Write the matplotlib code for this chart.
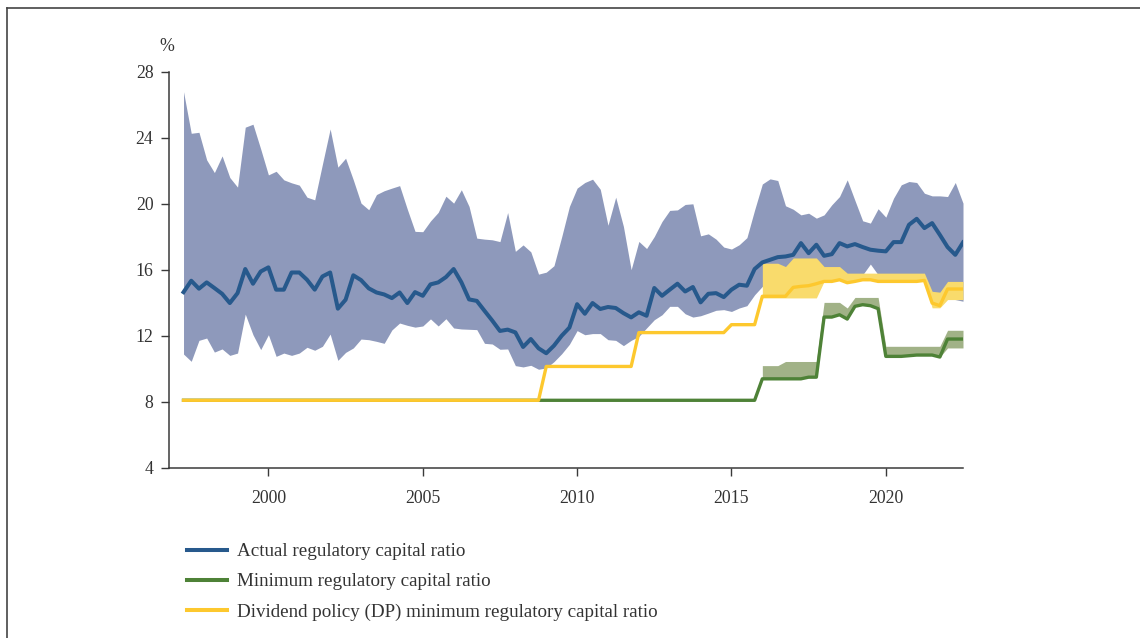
import numpy as np
import matplotlib
matplotlib.use("Agg")
import matplotlib.pyplot as plt
from matplotlib.lines import Line2D

# ---------------- data (quarterly, 1997Q2 .. 2022Q3) ----------------
start_year = 1997.25
n_points = 102
years = start_year + 0.25 * np.arange(n_points)

actual = [
    14.65, 15.34, 14.86, 15.24, 14.90, 14.55, 13.99, 14.59, 16.05, 15.16,
    15.90, 16.15, 14.80, 14.80, 15.84, 15.84, 15.40, 14.80, 15.60, 15.84,
    13.65, 14.19, 15.67, 15.38, 14.88, 14.63, 14.51, 14.29, 14.63, 13.99,
    14.65, 14.43, 15.12, 15.24, 15.56, 16.05, 15.25, 14.21, 14.12, 13.52,
    12.93, 12.30, 12.38, 12.21, 11.33, 11.81, 11.25, 10.95, 11.41, 12.01,
    12.50, 13.92, 13.34, 13.99, 13.63, 13.75, 13.69, 13.38, 13.12, 13.43,
    13.22, 14.90, 14.43, 14.80, 15.16, 14.69, 14.96, 14.03, 14.55, 14.59,
    14.35, 14.80, 15.10, 15.04, 16.05, 16.45, 16.61, 16.77, 16.81, 16.91,
    17.62, 17.01, 17.52, 16.85, 16.95, 17.62, 17.42, 17.56, 17.38, 17.22,
    17.16, 17.12, 17.68, 17.68, 18.73, 19.09, 18.53, 18.83, 18.12, 17.38,
    16.91, 17.66,
]

actual_upper = [
    26.79, 24.27, 24.33, 22.66, 21.89, 22.90, 21.59, 21.01, 24.64, 24.82,
    23.32, 21.75, 21.97, 21.45, 21.27, 21.13, 20.40, 20.24, 22.40, 24.53,
    22.22, 22.76, 21.45, 20.04, 19.64, 20.56, 20.79, 20.95, 21.10, 19.67,
    18.33, 18.31, 18.96, 19.48, 20.46, 20.04, 20.85, 19.84, 17.92, 17.86,
    17.82, 17.71, 19.47, 17.12, 17.51, 17.09, 15.74, 15.86, 16.25, 18.00,
    19.84, 20.95, 21.29, 21.49, 20.88, 18.70, 20.40, 18.63, 16.01, 17.72,
    17.29, 18.02, 18.93, 19.60, 19.63, 19.96, 20.00, 18.06, 18.18, 17.86,
    17.38, 17.26, 17.52, 17.95, 19.63, 21.20, 21.51, 21.41, 19.88, 19.67,
    19.33, 19.43, 19.13, 19.33, 19.94, 20.44, 21.45, 20.20, 18.97, 18.83,
    19.70, 19.19, 20.34, 21.15, 21.35, 21.29, 20.64, 20.48, 20.48, 20.44,
    21.29, 20.04,
]

actual_lower = [
    10.90, 10.46, 11.73, 11.87, 11.02, 11.21, 10.82, 10.96, 13.32, 12.07,
    11.17, 12.07, 10.76, 10.96, 10.82, 10.96, 11.31, 11.13, 11.37, 12.11,
    10.52, 11.00, 11.27, 11.81, 11.77, 11.67, 11.55, 12.36, 12.78, 12.64,
    12.53, 12.60, 13.03, 12.60, 13.04, 12.48, 12.42, 12.40, 12.38, 11.55,
    11.51, 11.19, 11.21, 10.20, 10.12, 10.22, 9.98, 10.06, 10.44, 10.92,
    11.49, 12.32, 12.07, 12.14, 12.14, 11.77, 11.73, 11.41, 11.73, 11.97,
    12.48, 12.98, 13.28, 13.79, 13.79, 13.34, 13.14, 13.22, 13.38, 13.55,
    13.59, 13.48, 13.69, 13.83, 14.49, 15.00, 15.30, 15.50, 15.50, 15.60,
    15.70, 15.60, 15.70, 15.70, 15.60, 15.50, 15.60, 15.70, 15.70, 16.35,
    15.70, 15.50, 15.40, 15.50, 15.60, 15.50, 15.40, 14.60, 14.50, 14.30,
    14.20, 14.10,
]

minimum_ratio = (
    [8.1] * 75
    + [9.4] * 6
    + [9.5] * 2
    + [13.14, 13.14, 13.28, 13.02, 13.79, 13.89, 13.83, 13.65,
       10.76, 10.76, 10.76, 10.80, 10.84, 10.84, 10.84, 10.72,
       11.81, 11.81, 11.81]
)

dp_ratio = (
    [8.1] * 47
    + [10.15] * 12
    + [12.2] * 12
    + [12.68] * 4
    + [14.4] * 4
    + [14.94, 15.00, 15.04, 15.16, 15.30, 15.30, 15.40, 15.22, 15.30, 15.40,
       15.40, 15.30, 15.30, 15.30, 15.30, 15.30, 15.30, 15.36, 13.99, 13.83,
       14.84, 14.84, 14.84]
)

# ranges shown as bands from 2016 onwards (index 75 ..)
band_start = 75
minimum_upper = ([10.2] * 3 + [10.45] * 5 + [14.03] * 3 + [13.69] + [14.33] * 4
                 + [11.37] * 8 + [12.34] * 3)
minimum_lower = minimum_ratio[band_start:99] + [11.27] * 3
dp_upper = ([16.4] * 3 + [16.2] + [16.72] * 4 + [16.2] * 3 + [15.8] * 11
            + [14.7, 14.65] + [15.3] * 3)
dp_lower = [14.3] * 8 + dp_ratio[83:97] + [13.7, 13.7] + [14.2] * 3

y_ticks = [4, 8, 12, 16, 20, 24, 28]
x_ticks = [2000, 2005, 2010, 2015, 2020]
legend_labels = [
    "Actual regulatory capital ratio",
    "Minimum regulatory capital ratio",
    "Dividend policy (DP) minimum regulatory capital ratio",
]

# ---------------- style ----------------
plt.rcParams["font.family"] = ["Liberation Serif", "DejaVu Serif"]
TEXT = "#333333"
BLUE_LINE = "#27598C"
BLUE_BAND = "#8E99BB"
GREEN_LINE = "#4E8237"
GREEN_BAND = "#A1B287"
YELLOW_LINE = "#FDC82E"
YELLOW_BAND = "#F9DB6C"

W, H = 1140, 638
fig = plt.figure(figsize=(W / 100, H / 100), dpi=100)

ax_left, ax_right = 168.7 / W, 963 / W
ax_top, ax_bottom = 1 - 71.7 / H, 1 - 468 / H
ax = fig.add_axes([ax_left, ax_bottom, ax_right - ax_left, ax_top - ax_bottom])

yrs = np.asarray(years)
byrs = yrs[band_start:]

ax.fill_between(yrs, actual_lower, actual_upper, color=BLUE_BAND, lw=0, zorder=1)
ax.fill_between(byrs, dp_lower, dp_upper, color=YELLOW_BAND, lw=0, zorder=2)
ax.fill_between(byrs, minimum_lower, minimum_upper, color=GREEN_BAND, lw=0, zorder=2)
ax.plot(yrs, minimum_ratio, color=GREEN_LINE, lw=2.4, zorder=3)
ax.plot(yrs, dp_ratio, color=YELLOW_LINE, lw=2.4, zorder=4)
ax.plot(yrs, actual, color=BLUE_LINE, lw=2.9, zorder=5)

ax.set_xlim(1996.77, 2022.5)
ax.set_ylim(4, 28)
ax.set_yticks(y_ticks)
ax.set_xticks(x_ticks)
ax.set_xticklabels([str(t) for t in x_ticks])
ax.set_yticklabels([str(t) for t in y_ticks])

for s in ["top", "right"]:
    ax.spines[s].set_visible(False)
for s in ["left", "bottom"]:
    ax.spines[s].set_color("#3a3a3a")
    ax.spines[s].set_linewidth(1.1)

ax.tick_params(axis="both", direction="out", length=6, width=1.0,
               color="#3a3a3a", labelcolor=TEXT, labelsize=12.8)
ax.tick_params(axis="x", pad=9.5)
ax.tick_params(axis="y", pad=5)

ax.annotate("%", xy=(0, 1), xycoords="axes fraction", xytext=(-1.5, 18),
            textcoords="offset points", ha="center", va="center",
            fontsize=12.8, color=TEXT)

# legend
handles = [Line2D([], [], color=c, lw=2.9) for c in (BLUE_LINE, GREEN_LINE, YELLOW_LINE)]
fig.legend(handles, legend_labels, loc="upper left",
           bbox_to_anchor=(187 / W, 1 - 543 / H), frameon=False,
           fontsize=13.7, handlelength=2.1, handletextpad=0.55,
           labelspacing=0.67, borderpad=0, borderaxespad=0,
           labelcolor=TEXT)

# frame lines (top and left) around the figure
fig.add_artist(Line2D([7 / W, 1.0], [1 - 8 / H, 1 - 8 / H],
                      transform=fig.transFigure, color="#444444", lw=1.2))
fig.add_artist(Line2D([7 / W, 7 / W], [0, 1 - 8 / H],
                      transform=fig.transFigure, color="#444444", lw=1.2))

fig.savefig("out.png", dpi=100)
